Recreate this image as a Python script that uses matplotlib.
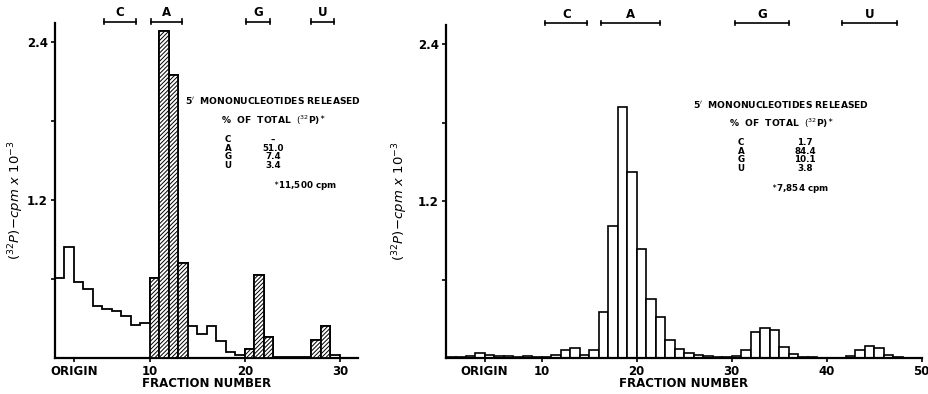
import numpy as np
import matplotlib
matplotlib.use("Agg")
import matplotlib.pyplot as plt

plt.rcParams['font.family'] = ['DejaVu Sans']
plt.rcParams['mathtext.fontset'] = 'dejavusans'
plt.rcParams['hatch.linewidth'] = 0.7

# ---- left panel: fractions 0..29, counts (x10^-3) ----
left_counts = [0.61, 0.845, 0.58, 0.524, 0.395, 0.374, 0.359, 0.319, 0.248, 0.263,
               0.605, 2.48, 2.15, 0.72, 0.240, 0.185, 0.240, 0.126, 0.046, 0.025,
               0.068, 0.632, 0.157, 0.01, 0.01, 0.01, 0.01, 0.139, 0.240, 0.02]
left_hatched = [10, 11, 12, 13, 20, 21, 22, 27, 28]
left_spots = {'C': (5.2, 8.5), 'A': (10.1, 13.4), 'G': (20.1, 22.6), 'U': (27.0, 29.4)}
left_ticks = [2, 10, 20, 30]
left_ticklabels = ['ORIGIN', '10', '20', '30']
left_table = [('C', '\u2013'), ('A', '51.0'), ('G', '7.4'), ('U', '3.4')]
left_total = '11,500 cpm'

# ---- right panel: fractions 0..49 ----
right_counts = [0.01, 0.012, 0.014, 0.038, 0.022, 0.018, 0.016, 0.012, 0.014, 0.01,
                0.012, 0.025, 0.064, 0.082, 0.028, 0.066, 0.354, 1.009, 1.92, 1.419,
                0.838, 0.456, 0.316, 0.143, 0.074, 0.041, 0.028, 0.015, 0.01, 0.01,
                0.018, 0.06, 0.2, 0.232, 0.214, 0.087, 0.036, 0.012, 0.008, 0.006,
                0.006, 0.006, 0.015, 0.06, 0.094, 0.082, 0.023, 0.01, 0.006, 0.004]
right_spots = {'C': (10.4, 14.8), 'A': (16.3, 22.5), 'G': (30.4, 36.0), 'U': (41.6, 47.4)}
right_ticks = [4, 10, 20, 30, 40, 50]
right_ticklabels = ['ORIGIN', '10', '20', '30', '40', '50']
right_table = [('C', '1.7'), ('A', '84.4'), ('G', '10.1'), ('U', '3.8')]
right_total = '7,854 cpm'

W, H = 929, 394
fig = plt.figure(figsize=(W / 100, H / 100), dpi=100)


def px_axes(x0, x1, ytop, ybot):
    return fig.add_axes([x0 / W, 1 - ybot / H, (x1 - x0) / W, (ybot - ytop) / H])


def style_axes(ax, ticks, ticklabels, ylab_x):
    for s in ['top', 'right']:
        ax.spines[s].set_visible(False)
    for s in ['left', 'bottom']:
        ax.spines[s].set_linewidth(1.6)
    ax.set_yticks([0.6, 1.2, 1.8, 2.4])
    ax.set_yticklabels(['', '1.2', '', '2.4'], fontsize=8.5, fontweight='bold')
    ax.set_xticks(ticks)
    ax.set_xticklabels(ticklabels, fontsize=8.5, fontweight='bold')
    ax.tick_params(direction='out', length=3, width=1.2, pad=2)
    ax.set_xlabel('FRACTION NUMBER', fontsize=8.5, fontweight='bold', labelpad=-1)
    ax.set_ylabel(r'$(^{32}P)\!-\!cpm\ x\ 10^{-3}$', fontsize=9.5)
    ax.yaxis.set_label_coords(ylab_x, 0.47)


def brackets(ax, spots, ybar, ylab):
    for name, (a, b) in spots.items():
        ax.plot([a, b], [ybar, ybar], color='black', lw=1.2, clip_on=False)
        for e in (a, b):
            ax.plot([e, e], [ybar - 0.018, ybar + 0.018], color='black', lw=1.2, clip_on=False)
        ax.text((a + b) / 2, ylab, name, ha='center', va='center', fontsize=8.5,
                fontweight='bold', clip_on=False)


def legend_block(xc, ytitle, xl, xv, total, rows, xstar):
    kw = dict(ha='center', va='center', fontweight='bold')
    fig.text(xc / W, 1 - ytitle / H, "5$^{\\prime}$  MONONUCLEOTIDES RELEASED",
             fontsize=6.6, **kw)
    fig.text(xc / W, 1 - (ytitle + 19) / H, r"%  OF  TOTAL  $(^{32}$P)$^{\ast}$",
             fontsize=6.6, **kw)
    for i, (n, v) in enumerate(rows):
        y = ytitle + 39 + 8.4 * i
        fig.text(xl / W, 1 - y / H, n, fontsize=6.3, **kw)
        fig.text(xv / W, 1 - y / H, v, fontsize=6.3, **kw)
    fig.text(xstar / W, 1 - (ytitle + 85) / H, r"$^{\ast}$" + total, fontsize=6.3, **kw)


# ---- left ----
ax1 = px_axes(55, 358, 22.7, 358)
edges1 = np.arange(len(left_counts) + 1)
ax1.stairs(left_counts, edges1, color='black', lw=1.3, baseline=None)
ax1.plot([edges1[-1], edges1[-1]], [left_counts[-1], 0], color='black', lw=1.3)
hx = np.array(left_hatched)
hy = np.array(left_counts)[hx]
ax1.bar(hx, hy, width=1, align='edge', facecolor='white', edgecolor='black',
        hatch='////////', lw=1.3, zorder=3)
ax1.set_xlim(0, 31.9)
ax1.set_ylim(0, 2.545)
style_axes(ax1, left_ticks, left_ticklabels, -0.095)
brackets(ax1, left_spots, 2.552, 2.62)
legend_block(273, 101, 228, 273, left_total, left_table, 305)

# ---- right ----
ax2 = px_axes(446, 922, 25, 358.3)
x2 = np.arange(len(right_counts))
ax2.bar(x2, right_counts, width=1, align='edge', facecolor='white', edgecolor='black', lw=1.2)
ax2.set_xlim(-0.07, 50.05)
ax2.set_ylim(0, 2.545)
style_axes(ax2, right_ticks, right_ticklabels, -0.076)
brackets(ax2, right_spots, 2.56, 2.624)
legend_block(781, 104, 741, 805, right_total, right_table, 800)

fig.savefig('out.png', dpi=100)
